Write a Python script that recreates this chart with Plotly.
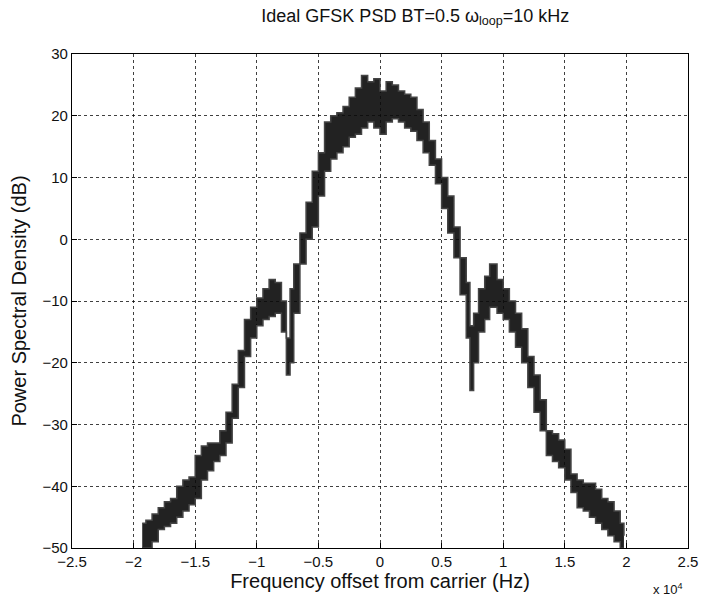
import plotly.graph_objects as go

# Frequency offset (units of 1e4 Hz) and the upper / lower edges of the noisy PSD trace (dB)
freq = [-1.93, -1.90, -1.85, -1.80, -1.75, -1.70, -1.65, -1.60, -1.55, -1.50,
        -1.45, -1.40, -1.35, -1.30, -1.25, -1.20, -1.15, -1.10, -1.05, -1.00,
        -0.95, -0.90, -0.85, -0.80, -0.76, -0.73, -0.70, -0.65, -0.60, -0.55,
        -0.50, -0.45, -0.40, -0.35, -0.30, -0.25, -0.20, -0.15, -0.10, -0.05,
        0.00, 0.05, 0.10, 0.15, 0.20, 0.25, 0.30, 0.35, 0.40, 0.45,
        0.50, 0.55, 0.60, 0.65, 0.70, 0.73, 0.76, 0.80, 0.85, 0.89,
        0.95, 1.00, 1.05, 1.10, 1.15, 1.20, 1.25, 1.30, 1.35, 1.40,
        1.45, 1.50, 1.55, 1.60, 1.65, 1.70, 1.75, 1.80, 1.85, 1.90,
        1.95, 1.98]
psd_hi = [-46, -45.5, -44.5, -43.5, -42.5, -42, -40, -39, -38.5, -35,
          -33.5, -33, -33, -31, -28, -23.5, -18, -13, -11, -9.5,
          -8, -6.5, -7, -10, -16, -8, -4, 1, 6, 11,
          14, 19, 20, 20.5, 21.5, 23, 24.5, 26.5, 25.5, 26,
          24, 25.5, 25, 24, 23.5, 23, 21, 19, 16, 13,
          10, 7, 2, -3, -7, -14, -12, -8, -6, -4,
          -6.5, -8, -10, -12, -14.5, -19, -22, -26, -31, -31.5,
          -32.5, -34, -38, -39, -39.5, -39.5, -40.5, -42, -42.5, -44,
          -46, -48]
psd_lo = [-50, -50, -49, -47, -46.5, -46, -45, -44, -43, -42,
          -39, -37.5, -36, -35, -33, -29, -24, -19, -16, -14,
          -13, -12.5, -12, -15, -22, -20, -12, -4, 0, 2,
          7, 11, 13, 14, 15, 16.5, 17, 18, 19, 18,
          17, 19, 19.5, 19, 18, 17.5, 16, 14, 12, 9,
          5, 1, -3, -9, -16, -24.5, -20, -15, -13, -11,
          -12, -13, -15, -17.5, -20, -24, -28, -31, -35, -36,
          -37, -39, -41, -43.5, -44, -45, -46, -47, -48, -49,
          -50, -50]

x_ticks = [-2.5, -2, -1.5, -1, -0.5, 0, 0.5, 1, 1.5, 2, 2.5]
y_ticks = [-50, -40, -30, -20, -10, 0, 10, 20, 30]

font_family = "Liberation Sans, Arial, Helvetica, sans-serif"


def tick_text(values):
    return [("\u2212" if v < 0 else "") + f"{abs(v):g}" for v in values]


fig = go.Figure()

# lower edge of the spectrum band
fig.add_trace(go.Scatter(
    x=freq, y=psd_lo, mode="lines", line=dict(color="#444444", width=1.5, shape="hv"),
    hoverinfo="skip", showlegend=False,
))
# upper edge, filled down to the lower edge
fig.add_trace(go.Scatter(
    x=freq, y=psd_hi, mode="lines", line=dict(color="#444444", width=1.5, shape="hv"),
    fill="tonexty", fillcolor="rgba(10,10,10,0.9)",
    showlegend=False,
))

axis_common = dict(
    showline=True, linecolor="black", linewidth=1.2, mirror=True,
    ticks="inside", ticklen=5, tickcolor="black",
    showgrid=True, gridcolor="rgba(0,0,0,0.75)", griddash="dot", gridwidth=1,
    zeroline=False,
    tickfont=dict(family=font_family, size=15, color="#111111"),
)

fig.update_xaxes(
    range=[-2.5, 2.5], tickvals=x_ticks, ticktext=tick_text(x_ticks),
    title=dict(text="Frequency offset from carrier (Hz)", standoff=2,
               font=dict(family=font_family, size=20, color="#111111")),
    **axis_common,
)
fig.update_yaxes(
    range=[-50, 30], tickvals=y_ticks, ticktext=tick_text(y_ticks),
    title=dict(text="Power Spectral Density (dB)", standoff=10,
               font=dict(family=font_family, size=20, color="#111111")),
    **axis_common,
)

fig.update_layout(
    width=710, height=601,
    margin=dict(l=72, r=12, t=54, b=53),
    paper_bgcolor="white", plot_bgcolor="white",
    title=dict(
        text="Ideal GFSK PSD BT=0.5 \u03c9<sub>loop</sub>=10 kHz",
        x=0.585, xanchor="center", y=0.985, yanchor="top",
        font=dict(family=font_family, size=18, color="#111111"),
    ),
    annotations=[
        dict(text="x 10<sup>4</sup>", xref="paper", yref="paper",
             x=0.995, y=-0.083, xanchor="right", yanchor="middle", showarrow=False,
             font=dict(family=font_family, size=13, color="#111111")),
    ],
)

fig.write_html("out.html")
